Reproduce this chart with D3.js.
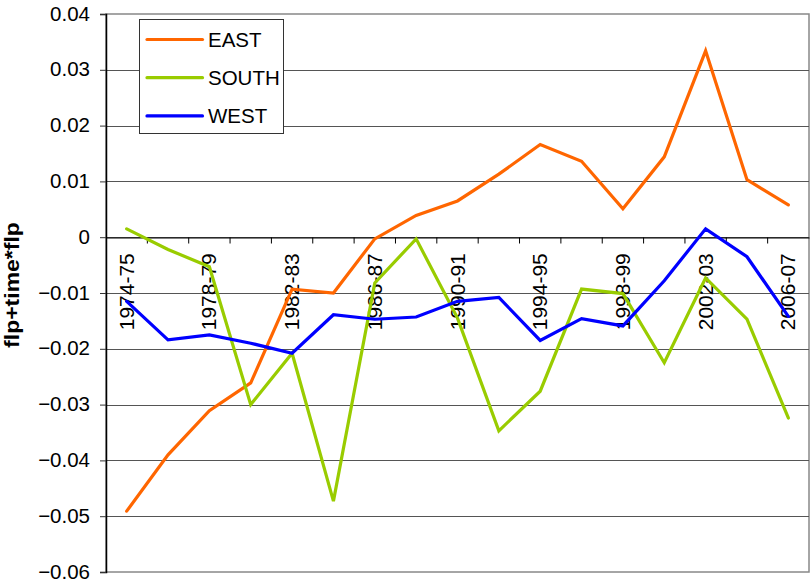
<!DOCTYPE html>
<html>
<head>
<meta charset="utf-8">
<script src="https://cdn.jsdelivr.net/npm/d3@7"></script>
<style>
  html, body { margin: 0; padding: 0; background: #fff; }
  svg { display: block; font-family: Arial, "Liberation Sans", sans-serif; }
</style>
</head>
<body>
<svg id="chart" width="811" height="579"></svg>
<script>
// Two-year periods on the category axis
const periods = [
  "1974-75", "1976-77", "1978-79", "1980-81", "1982-83", "1984-85",
  "1986-87", "1988-89", "1990-91", "1992-93", "1994-95", "1996-97",
  "1998-99", "2000-01", "2002-03", "2004-05", "2006-07"
];
// Only every other period carries a label
const labelledPeriods = [
  "1974-75", "1978-79", "1982-83", "1986-87", "1990-91",
  "1994-95", "1998-99", "2002-03", "2006-07"
];

const east = [
  -0.0491, -0.0390, -0.0311, -0.0261, -0.0093, -0.0100, -0.0003, 0.0039, 0.0065,
  0.0113, 0.0166, 0.0136, 0.0051, 0.0144, 0.0334, 0.0103, 0.0058
];
const south = [
  0.0015, -0.0022, -0.0053, -0.0300, -0.0208, -0.0473, -0.0082, -0.0003, -0.0145,
  -0.0347, -0.0276, -0.0093, -0.0101, -0.0225, -0.0073, -0.0147, -0.0324
];
const west = [
  -0.0115, -0.0184, -0.0175, -0.0190, -0.0208, -0.0139, -0.0147, -0.0143, -0.0115,
  -0.0108, -0.0185, -0.0146, -0.0159, -0.0078, 0.0015, -0.0035, -0.0142
];

const seriesNames = ["EAST", "SOUTH", "WEST"];
const seriesColors = ["#FF6600", "#99CC00", "#0000FF"];
const seriesValues = [east, south, west];

const yTicks = [0.04, 0.03, 0.02, 0.01, 0, -0.01, -0.02, -0.03, -0.04, -0.05, -0.06];
const yTitle = "flp+time*flp";

const svg = d3.select("#chart");
const plot = { left: 106, right: 809, top: 14, bottom: 572 };

const x = d3.scaleBand().domain(periods).range([plot.left, plot.right]).paddingInner(0).paddingOuter(0);
const y = d3.scaleLinear().domain([-0.06, 0.04]).range([plot.bottom, plot.top]);
const xc = d => x(d) + x.bandwidth() / 2;

// Plot area
svg.append("rect")
  .attr("x", plot.left).attr("y", plot.top)
  .attr("width", plot.right - plot.left).attr("height", plot.bottom - plot.top)
  .attr("fill", "#fff").attr("stroke", "#888").attr("stroke-width", 1.5);

// Horizontal gridlines
svg.append("g").selectAll("line")
  .data(yTicks.filter(v => v !== 0.04 && v !== -0.06))
  .join("line")
  .attr("x1", plot.left).attr("x2", plot.right)
  .attr("y1", d => Math.round(y(d)) + 0.5).attr("y2", d => Math.round(y(d)) + 0.5)
  .attr("stroke", "#555").attr("stroke-width", 1.2);

// Y axis
const yAxis = d3.axisLeft(y).tickValues(yTicks).tickSize(6).tickPadding(10);
const yg = svg.append("g").attr("transform", `translate(${plot.left},0)`).call(yAxis);
yg.select(".domain").attr("stroke", "#000").attr("stroke-width", 1.5);
yg.selectAll(".tick line").attr("stroke", "#333");
yg.selectAll(".tick text")
  .attr("font-size", 20.5).attr("fill", "#000")
  .attr("font-family", "Arial, 'Liberation Sans', sans-serif")
  .attr("dy", "0.3em")
  .text(d => d === 0 ? "0" : d3.format(".2f")(d));

// Category axis along zero, ticks between periods
const xAxis = d3.axisBottom(x).tickSize(0).tickFormat(() => "");
const xg = svg.append("g").attr("transform", `translate(0,${Math.round(y(0)) + 0.5})`).call(xAxis);
xg.select(".domain").attr("stroke", "#000").attr("stroke-width", 1.2);
xg.append("g").selectAll("line")
  .data(periods.slice(1))
  .join("line")
  .attr("x1", d => x(d)).attr("x2", d => x(d))
  .attr("y1", 0).attr("y2", 6)
  .attr("stroke", "#000").attr("stroke-width", 1);

// Rotated period labels
svg.append("g").selectAll("text")
  .data(labelledPeriods)
  .join("text")
  .attr("transform", d => `translate(${xc(d) + 7},${y(0) + 16}) rotate(-90)`)
  .attr("text-anchor", "end")
  .attr("font-size", 21)
  .attr("fill", "#000")
  .text(d => d);

// Series lines
const line = d3.line().x((d, i) => xc(periods[i])).y(d => y(d));
svg.append("g").selectAll("path")
  .data(seriesValues)
  .join("path")
  .attr("d", d => line(d))
  .attr("fill", "none")
  .attr("stroke", (d, i) => seriesColors[i])
  .attr("stroke-width", 3.2)
  .attr("stroke-linejoin", "miter")
  .attr("stroke-linecap", "round");

// Y axis title
svg.append("text")
  .attr("transform", `translate(19,285) rotate(-90) scale(1,0.85)`)
  .attr("text-anchor", "middle")
  .attr("font-size", 23)
  .attr("font-weight", "bold")
  .attr("fill", "#000")
  .text(yTitle);

// Legend
const lg = svg.append("g");
lg.append("rect")
  .attr("x", 139.5).attr("y", 19.5).attr("width", 144).attr("height", 114)
  .attr("fill", "#fff").attr("stroke", "#333").attr("stroke-width", 1);
const rows = lg.selectAll("g.row").data(seriesNames).join("g")
  .attr("transform", (d, i) => `translate(0,${39.5 + i * 38.2})`);
rows.append("line")
  .attr("x1", 147).attr("x2", 202.5).attr("y1", 0).attr("y2", 0)
  .attr("stroke", (d, i) => seriesColors[i]).attr("stroke-width", 3.2)
  .attr("stroke-linecap", "round");
rows.append("text")
  .attr("x", 208).attr("y", 0).attr("dy", "0.35em")
  .attr("font-size", 20.5).attr("fill", "#000")
  .text(d => d);
</script>
</body>
</html>
